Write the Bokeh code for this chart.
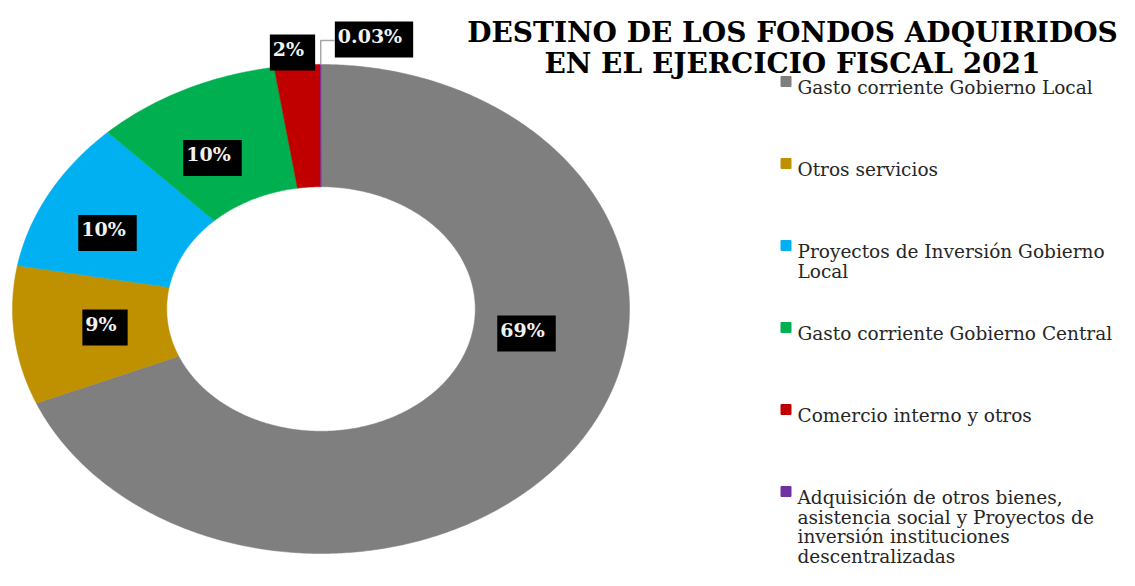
import numpy as np
from bokeh.plotting import figure
from bokeh.models import Range1d, ColumnDataSource
from bokeh.core.properties import value
from bokeh.embed import file_html
from bokeh.resources import INLINE

# ---------------- data ----------------
categories = [
    "Gasto corriente Gobierno Local",
    "Otros servicios",
    "Proyectos de Inversión Gobierno Local",
    "Gasto corriente Gobierno Central",
    "Comercio interno y otros",
    "Adquisición de otros bienes, asistencia social y Proyectos de inversión instituciones descentralizadas",
]
shares = [68.7, 9.15, 10.0, 9.72, 2.40, 0.03]
slice_labels = ["69%", "9%", "10%", "10%", "2%", "0.03%"]
legend_lines = [
    ["Gasto corriente Gobierno Local"],
    ["Otros servicios"],
    ["Proyectos de Inversión Gobierno", "Local"],
    ["Gasto corriente Gobierno Central"],
    ["Comercio interno y otros"],
    ["Adquisición de otros bienes,", "asistencia social y Proyectos de",
     "inversión instituciones", "descentralizadas"],
]
title_lines = ["DESTINO DE LOS FONDOS ADQUIRIDOS", "EN EL EJERCICIO FISCAL 2021"]

# ---------------- styles / layout ----------------
colors = ["#7F7F7F", "#BF9000", "#00B0F0", "#00B050", "#C00000", "#7030A0"]
W, H = 1119, 570
CX, CY, RX, RY = 320.5, 308.5, 308.5, 244.5   # pixels of donut centre / radii
HOLE = 0.5


def dx(px):
    return (px - CX) / RX


def dy(py):
    return (CY - py) / RY


label_px = [(526, 333), (104.5, 327), (107, 232.5), (212, 157.5), (292, 52), (373.5, 39)]
legend_sq_x, legend_txt_x = 785.5, 797
legend_base = [87, 169, 251, 333, 415, 497]
line_step = 19.5

p = figure(width=W, height=H, output_backend="svg", toolbar_location=None,
           x_range=Range1d(dx(0), dx(W)), y_range=Range1d(dy(H), dy(0)),
           min_border=0, outline_line_color=None)
p.axis.visible = False
p.grid.visible = False
p.background_fill_color = "white"
p.border_fill_color = "white"

# ---------------- donut slices ----------------
total = sum(shares)
cum = np.concatenate([[0], np.cumsum(shares)]) / total * 2 * np.pi
xs, ys = [], []
for i in range(len(shares)):
    a0, a1 = cum[i], cum[i + 1]
    n = max(4, int((a1 - a0) / (2 * np.pi) * 720))
    t = np.linspace(a0, a1, n)
    ox, oy = np.sin(t), np.cos(t)
    ix, iy = HOLE * np.sin(t[::-1]), HOLE * np.cos(t[::-1])
    xs.append(list(np.concatenate([ox, ix])))
    ys.append(list(np.concatenate([oy, iy])))
p.patches(xs=xs, ys=ys, fill_color=colors, line_color=colors, line_width=0.5)

# leader line for the tiny slice
mid_last = (cum[-2] + cum[-1]) / 2
lx0 = np.sin(mid_last)
ly0 = np.cos(mid_last)
p.line(x=[lx0, lx0, dx(334)], y=[ly0, dy(40), dy(40)], line_color="#A6A6A6", line_width=1.5)

# ---------------- slice labels ----------------
src = ColumnDataSource(dict(x=[dx(a) for a, b in label_px], y=[dy(b) for a, b in label_px],
                            t=slice_labels))
p.text(x="x", y="y", text="t", source=src, text_align="center", text_baseline="middle",
       text_color="#F2F2F2", text_font=value("DejaVu Serif"), text_font_style="bold",
       text_font_size="19px", background_fill_color="black", padding=(3, 11, 3, 11))

# ---------------- title ----------------
p.text(x=[dx(792), dx(792)], y=[dy(32), dy(63)], text=title_lines, text_align="center",
       text_baseline="alphabetic", text_color="black", text_font=value("DejaVu Serif"),
       text_font_style="bold", text_font_size="28px")

# ---------------- legend ----------------
p.scatter(x=[dx(legend_sq_x)] * len(categories), y=[dy(b - 6) for b in legend_base],
          marker="square", size=10, fill_color=colors, line_color=colors)
tx, ty, tt = [], [], []
for b, lines in zip(legend_base, legend_lines):
    for k, ln in enumerate(lines):
        tx.append(dx(legend_txt_x))
        ty.append(dy(b + k * line_step))
        tt.append(ln)
p.text(x=tx, y=ty, text=tt, text_align="left", text_baseline="alphabetic",
       text_color="#262626", text_font=value("DejaVu Serif"), text_font_size="18.5px")

open("out.html", "w").write(file_html(p, INLINE))
